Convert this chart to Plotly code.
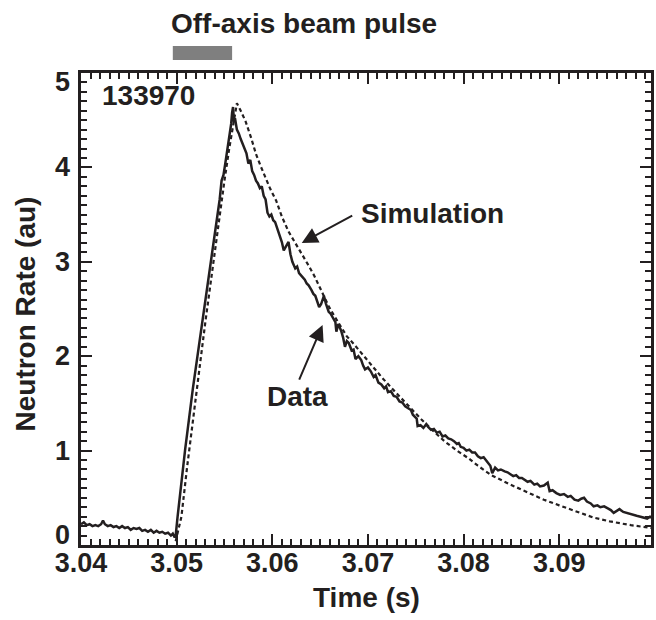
import plotly.graph_objects as go

# Measured neutron rate, shot 133970
data_time = [
    3.0400, 3.0403, 3.0406, 3.0409, 3.0412, 3.0415, 3.0418, 3.0421, 3.0423, 3.0425,
    3.0428, 3.0431, 3.0434, 3.0437, 3.0440, 3.0443, 3.0446, 3.0449, 3.0452, 3.0455,
    3.0458, 3.0461, 3.0464, 3.0467, 3.0470, 3.0473, 3.0476, 3.0479, 3.0482, 3.0485,
    3.0488, 3.0491, 3.0494, 3.0496, 3.0498,
    3.0499, 3.0501, 3.0503, 3.0505, 3.0507, 3.0509, 3.0511, 3.0513, 3.0515, 3.0517,
    3.0519, 3.0521, 3.0523, 3.0525, 3.0527, 3.0529, 3.0531, 3.0533, 3.0535, 3.0537,
    3.0539, 3.0541, 3.0543, 3.0545, 3.0547, 3.0549, 3.0551, 3.0553, 3.0555, 3.0556,
    3.0557, 3.0558, 3.0559, 3.0560, 3.0561, 3.0563, 3.0565, 3.0567, 3.0569, 3.0571,
    3.0573, 3.0575, 3.0577, 3.0579, 3.0581, 3.0583, 3.0585, 3.0587, 3.0589, 3.0591,
    3.0593, 3.0595, 3.0597, 3.0599, 3.0601, 3.0603, 3.0605, 3.0607, 3.0610, 3.0612,
    3.0614, 3.0617, 3.0619, 3.0621, 3.0624, 3.0626, 3.0628, 3.0631, 3.0634, 3.0636,
    3.0638, 3.0641, 3.0643, 3.0645, 3.0647, 3.0649, 3.0651, 3.0654, 3.0656, 3.0659,
    3.0661, 3.0664, 3.0666, 3.0667, 3.0669, 3.0672, 3.0674, 3.0676, 3.0678, 3.0680,
    3.0683, 3.0685, 3.0687, 3.0690, 3.0693, 3.0695, 3.0697, 3.0700, 3.0703, 3.0706,
    3.0708, 3.0711, 3.0714, 3.0717, 3.0719, 3.0721, 3.0724, 3.0727, 3.0730, 3.0733,
    3.0736, 3.0739, 3.0742, 3.0745, 3.0747, 3.0749, 3.0751, 3.0752, 3.0755, 3.0758,
    3.0761, 3.0763, 3.0766, 3.0769, 3.0772, 3.0775, 3.0778, 3.0781, 3.0784, 3.0787,
    3.0790, 3.0793, 3.0795, 3.0797, 3.0800, 3.0803, 3.0806, 3.0809, 3.0812, 3.0815,
    3.0818, 3.0821, 3.0825, 3.0828, 3.0830, 3.0833, 3.0836, 3.0839, 3.0843, 3.0846,
    3.0849, 3.0852, 3.0855, 3.0858, 3.0861, 3.0864, 3.0867, 3.0870, 3.0874, 3.0877,
    3.0880, 3.0884, 3.0888, 3.0890, 3.0893, 3.0897, 3.0901, 3.0905, 3.0909, 3.0912,
    3.0916, 3.0920, 3.0923, 3.0926, 3.0929, 3.0933, 3.0936, 3.0940, 3.0943, 3.0947,
    3.0950, 3.0954, 3.0957, 3.0960, 3.0963, 3.0967, 3.0970, 3.0974, 3.0978, 3.0981,
    3.0985, 3.0988, 3.0992, 3.0995, 3.0997,
]
data_rate = [
    0.22, 0.24, 0.21, 0.22, 0.20, 0.21, 0.20, 0.22, 0.26, 0.22,
    0.20, 0.21, 0.19, 0.20, 0.18, 0.20, 0.18, 0.19, 0.16, 0.18,
    0.17, 0.18, 0.15, 0.16, 0.14, 0.16, 0.13, 0.15, 0.13, 0.14,
    0.12, 0.13, 0.10, 0.12, 0.08,
    0.10, 0.30, 0.50, 0.68, 0.85, 1.02, 1.18, 1.32, 1.50, 1.66,
    1.80, 1.95, 2.10, 2.24, 2.38, 2.52, 2.66, 2.80, 2.95, 3.08,
    3.22, 3.36, 3.52, 3.66, 3.86, 3.92, 4.05, 4.18, 4.32, 4.40,
    4.46, 4.58, 4.64, 4.48, 4.52, 4.40, 4.36, 4.30, 4.25, 4.20,
    4.15, 4.04, 4.08, 3.96, 3.92, 3.86, 3.83, 3.78, 3.80, 3.70,
    3.66, 3.52, 3.48, 3.50, 3.44, 3.42, 3.36, 3.30, 3.21, 3.12,
    3.16, 3.21, 3.08, 3.00, 2.93, 2.95, 2.88, 2.85, 2.81, 2.77,
    2.75, 2.70, 2.66, 2.64, 2.58, 2.52, 2.55, 2.64, 2.56, 2.47,
    2.45, 2.40, 2.36, 2.26, 2.34, 2.27, 2.20, 2.10, 2.16, 2.14,
    2.06, 2.07, 1.97, 2.00, 1.96, 1.90, 1.86, 1.88, 1.84, 1.78,
    1.80, 1.72, 1.70, 1.66, 1.68, 1.62, 1.63, 1.58, 1.57, 1.52,
    1.51, 1.47, 1.45, 1.43, 1.38, 1.36, 1.34, 1.26, 1.27, 1.24,
    1.28, 1.25, 1.22, 1.23, 1.19, 1.20, 1.15, 1.16, 1.13, 1.12,
    1.10, 1.07, 1.08, 1.04, 1.03, 1.00, 1.01, 0.98, 0.98, 0.94,
    0.92, 0.93, 0.88, 0.84, 0.76, 0.82, 0.79, 0.80, 0.78, 0.77,
    0.75, 0.73, 0.74, 0.71, 0.71, 0.69, 0.67, 0.68, 0.64, 0.65,
    0.62, 0.63, 0.66, 0.57, 0.58, 0.55, 0.53, 0.54, 0.51, 0.52,
    0.48, 0.47, 0.49, 0.50, 0.46, 0.44, 0.41, 0.42, 0.40, 0.41,
    0.39, 0.37, 0.34, 0.36, 0.38, 0.35, 0.34, 0.33, 0.32, 0.31,
    0.30, 0.29, 0.28, 0.30, 0.29,
]

# Simulated neutron rate
sim_time = [
    3.0499, 3.0505, 3.0511, 3.0515, 3.0520, 3.0525, 3.0530, 3.0535, 3.0540, 3.0545,
    3.0550, 3.0555, 3.0560, 3.0563, 3.0567, 3.0572, 3.0578, 3.0583, 3.0588, 3.0593,
    3.0598, 3.0604, 3.0610, 3.0617, 3.0623, 3.0628, 3.0633, 3.0638, 3.0644, 3.0649,
    3.0654, 3.0659, 3.0664, 3.0669, 3.0678, 3.0686, 3.0694, 3.0705, 3.0715, 3.0725,
    3.0735, 3.0745, 3.0756, 3.0767, 3.0780, 3.0793, 3.0805, 3.0815, 3.0829, 3.0849,
    3.0866, 3.0884, 3.0900, 3.0919, 3.0936, 3.0953, 3.0975, 3.0997,
]
sim_rate = [
    0.04, 0.30, 0.83, 1.17, 1.56, 1.96, 2.36, 2.75, 3.14, 3.50,
    3.86, 4.20, 4.50, 4.68, 4.60, 4.49, 4.31, 4.14, 4.01, 3.88,
    3.77, 3.65, 3.48, 3.32, 3.22, 3.14, 3.05, 2.96, 2.85, 2.74,
    2.63, 2.53, 2.44, 2.36, 2.21, 2.12, 2.02, 1.89, 1.77, 1.66,
    1.55, 1.45, 1.33, 1.22, 1.10, 1.00, 0.92, 0.84, 0.74, 0.64,
    0.56, 0.48, 0.42, 0.35, 0.29, 0.25, 0.21, 0.18,
]

# Off-axis neutral beam pulse window (s)
beam_on = 3.0496
beam_off = 3.0558

x_ticks = [3.04, 3.05, 3.06, 3.07, 3.08, 3.09]
y_ticks = [0, 1, 2, 3, 4, 5]

INK = "#231f20"
FONT = "Liberation Sans, Arial, Helvetica, sans-serif"

fig = go.Figure()
fig.add_trace(go.Scatter(
    x=sim_time, y=sim_rate, mode="lines",
    line=dict(color=INK, width=2.2, dash="4px,3px"),
))
fig.add_trace(go.Scatter(
    x=data_time, y=data_rate, mode="lines",
    line=dict(color=INK, width=2.5),
))

tick_font = dict(family=FONT, size=27, color=INK, weight="bold")
axis_common = dict(
    ticks="inside", ticklen=11, tickwidth=2, tickcolor=INK,
    showline=True, linewidth=3, linecolor=INK, mirror="allticks",
    showgrid=False, zeroline=False,
)

fig.update_xaxes(
    range=[3.04, 3.0996], tickvals=x_ticks, ticktext=[f"{v:.2f}" for v in x_ticks],
    tickfont=tick_font, ticklabelstandoff=-8,
    minor=dict(tick0=3.04, dtick=0.001, ticks="inside", ticklen=6, tickwidth=2, tickcolor=INK),
    **axis_common,
)
# y labels are drawn as annotations so the end labels can sit inside the frame span
fig.update_yaxes(
    range=[0, 5], tickvals=y_ticks, showticklabels=False,
    minor=dict(tick0=0, dtick=0.1, ticks="inside", ticklen=6, tickwidth=2, tickcolor=INK),
    **axis_common,
)

# Beam pulse bar above the frame
fig.add_shape(type="rect", xref="x", yref="paper",
              x0=beam_on, x1=beam_off, y0=1.0275, y1=1.057,
              fillcolor="#7f7f7f", line=dict(width=0))

text_font = dict(family=FONT, size=28, color=INK, weight="bold")
annotations = [
    dict(text="Off-axis beam pulse", xref="paper", yref="paper", x=0.391, y=1.104,
         xanchor="center", yanchor="middle", showarrow=False, font=text_font),
    dict(text="133970", xref="paper", yref="paper", x=0.033, y=0.953,
         xanchor="left", yanchor="middle", showarrow=False, font=text_font),
    dict(text="Simulation", xref="paper", yref="paper", x=0.487, y=0.703,
         xanchor="left", yanchor="middle", showarrow=False, font=text_font),
    dict(text="Data", xref="paper", yref="paper", x=0.380, y=0.3136,
         xanchor="center", yanchor="middle", showarrow=False, font=text_font),
    dict(text="Neutron Rate (au)", xref="paper", yref="paper", x=-0.0977, y=0.489,
         textangle=-90, xanchor="center", yanchor="middle", showarrow=False, font=text_font),
    dict(text="Time (s)", xref="paper", yref="paper", x=0.501, y=-0.112,
         xanchor="center", yanchor="middle", showarrow=False, font=text_font),
    # pointer arrows
    dict(text="", x=3.06308, y=3.20, xref="x", yref="y", ax=52, ay=-28,
         showarrow=True, arrowhead=2, arrowsize=1.6, arrowwidth=2, arrowcolor=INK),
    dict(text="", x=3.06526, y=2.33, xref="x", yref="y", ax=-24, ay=56,
         showarrow=True, arrowhead=2, arrowsize=1.6, arrowwidth=2, arrowcolor=INK),
]
for v in y_ticks:
    shift = 10 if v == y_ticks[0] else (-9 if v == y_ticks[-1] else 0)
    annotations.append(dict(
        text=str(v), xref="paper", yref="y", x=-0.015, y=v, yshift=shift,
        xanchor="right", yanchor="middle", showarrow=False, font=tick_font,
    ))

fig.update_layout(
    width=656, height=620,
    margin=dict(l=81, r=2, t=73, b=75),
    paper_bgcolor="white", plot_bgcolor="white",
    showlegend=False,
    annotations=annotations,
)

fig.write_html("out.html")
